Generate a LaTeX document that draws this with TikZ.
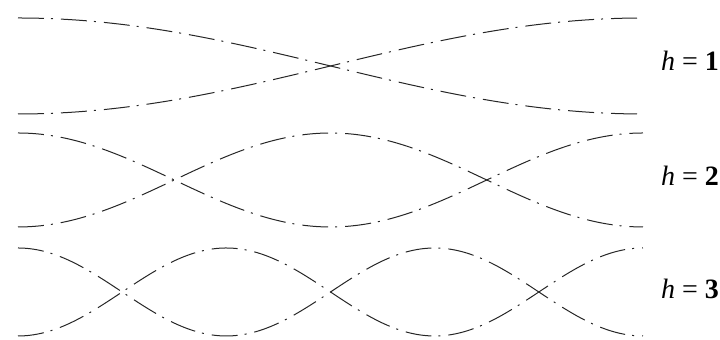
\documentclass[tikz,border=0pt]{standalone}
\usepackage{fontspec}
\setmainfont{Liberation Serif}
\usetikzlibrary{positioning}

\begin{document}
\begin{tikzpicture}[x=0.5pt, y=0.5pt,
    wave/.style={black!85, line width=0.5pt, dash pattern=on 13pt off 3.5pt on 1pt off 4pt},
    harm/.style={font=\fontsize{14}{16}\selectfont, inner sep=0pt}]
    \useasboundingbox (0,0) rectangle (720,340);
    %--- h = 1 ---
    \begin{scope}[yshift=137pt]
      \draw[wave] plot[domain=18:643, samples=120] (\x, {48*cos(0.288*(\x-18))});
      \draw[wave] plot[domain=18:643, samples=120] (\x, {-48*cos(0.288*(\x-18))});
      \node[harm] (h1) at (690,5) {\textit{h} = \textbf{1}};
    \end{scope}
    %--- h = 2 ---
    \begin{scope}[yshift=80pt]
      \draw[wave] plot[domain=18:643, samples=160] (\x, {47*cos(0.576*(\x-18))});
      \draw[wave] plot[domain=18:643, samples=160] (\x, {-47*cos(0.576*(\x-18))});
      \node[harm] (h2) at (690,4) {\textit{h} = \textbf{2}};
    \end{scope}
    %--- h = 3 ---
    \begin{scope}[yshift=24pt]
      \draw[wave] plot[domain=18:643, samples=200] (\x, {44*cos(0.864*(\x-18))});
      \draw[wave] plot[domain=18:643, samples=200] (\x, {-44*cos(0.864*(\x-18))});
      \node[harm] (h3) at (690,3) {\textit{h} = \textbf{3}};
    \end{scope}
  \end{tikzpicture}
\end{document}
